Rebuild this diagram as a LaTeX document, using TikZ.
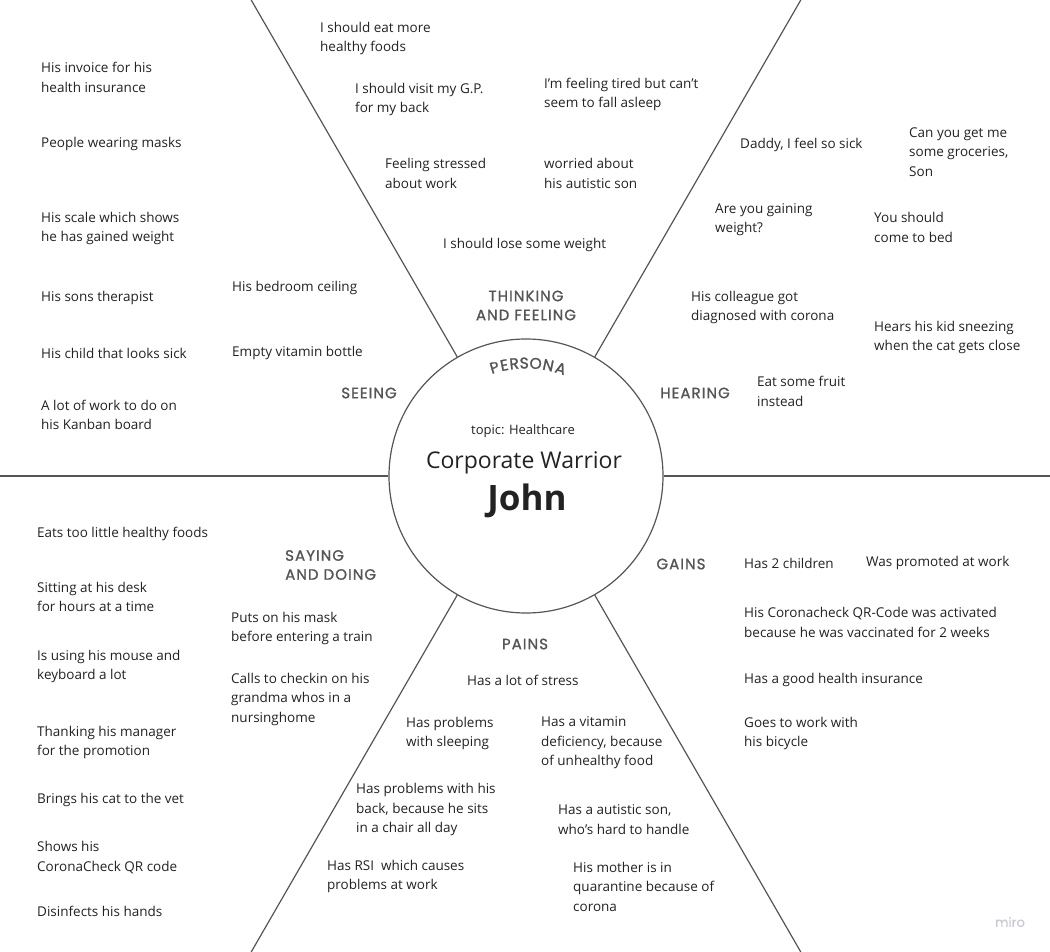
\documentclass[tikz,border=0pt]{standalone}
\usepackage{fontspec}
\setmainfont{Open Sans}
\newfontfamily\headfont{Poppins}[FakeBold=1.2,LetterSpace=7]
\newfontfamily\personafont{Poppins}[FakeBold=1.5]
\newfontfamily\mirofont{Poppins}[FakeBold=0.5]
\definecolor{ink}{HTML}{222222}
\definecolor{linec}{HTML}{555555}
\definecolor{headc}{HTML}{555555}
\definecolor{miroc}{HTML}{C9C9D6}
\begin{document}
\begin{tikzpicture}[x=1pt,y=-1pt,
  item/.style={anchor=west,align=left,inner sep=0pt,yshift=-1pt,font=\fontsize{13.5}{19.5}\selectfont,text=ink},
  head/.style={align=center,inner sep=0pt,font=\headfont\fontsize{15}{19}\selectfont,text=headc},
  divider/.style={draw=linec,line width=1.2pt}]
\useasboundingbox (0,0) rectangle (1050,952);
% centre circle
\node[circle,draw=linec,line width=1.2pt,minimum size=274pt,inner sep=0pt] (persona) at (526,476) {};
\coordinate (etl) at (251.2,0);
\coordinate (etr) at (800.8,0);
\coordinate (ebl) at (251.2,952);
\coordinate (ebr) at (800.8,952);
\coordinate (el) at (0,476);
\coordinate (er) at (1050,476);
\foreach \e in {etl,etr,ebl,ebr,el,er} \draw[divider] (persona) -- (\e);
% curved PERSONA
\foreach \ch/\ang [count=\i] in {P/106.2,E/101.1,R/96,S/90.9,O/85.1,N/78.6,A/72.1} {
  \node[inner sep=0pt,rotate=\ang-90,font=\personafont\fontsize{15.5}{15.5}\selectfont,text=headc] (pl\i) at ({526+113*cos(\ang)},{476-113*sin(\ang)}) {\ch};
}
\node[inner sep=0pt,font=\fontsize{13}{14}\selectfont,text=ink] (topic) at (523,431.5) {topic: Healthcare};
\node[inner sep=0pt,font=\fontsize{23}{28}\selectfont,text=ink] (role) at (524,462.5) {Corporate Warrior};
\node[inner sep=0pt,font=\bfseries\fontsize{35}{40}\selectfont,text=ink] (name) at (527,501) {John};
% headings
\node[head] (hsee) at (369,393) {SEEING};
\node[head] (hthink) at (526,305.5) {THINKING\\AND FEELING};
\node[head] (hhear) at (695,393) {HEARING};
\node[head,anchor=west,align=left] (hsay) at (285,565) {SAYING\\AND DOING};
\node[head] (hpain) at (525,644) {PAINS};
\node[head] (hgain) at (681,564) {GAINS};
% seeing
\node[item] (s1) at (41,76.5) {His invoice for his\\health insurance};
\node[item] (s2) at (41,143) {People wearing masks};
\node[item] (s3) at (41,227.5) {His scale which shows\\he has gained weight};
\node[item] (s4) at (41,297) {His sons therapist};
\node[item] (s5) at (41,352) {His child that looks sick};
\node[item] (s6) at (41,414) {A lot of work to do on\\his Kanban board};
\node[item] (s7) at (232,287) {His bedroom ceiling};
\node[item] (s8) at (232,352) {Empty vitamin bottle};
% thinking and feeling
\node[item] (t1) at (320,37.5) {I should eat more\\healthy foods};
\node[item] (t2) at (355,98.5) {I should visit my G.P.\\for my back};
\node[item] (t3) at (544,93.5) {I'm feeling tired but can't\\seem to fall asleep};
\node[item] (t4) at (385,172.5) {Feeling stressed\\about work};
\node[item] (t5) at (544,172.5) {worried about\\his autistic son};
\node[item] (t6) at (443,244) {I should lose some weight};
% hearing
\node[item] (r1) at (740,144) {Daddy, I feel so sick};
\node[item] (r2) at (909,151) {Can you get me\\some groceries,\\Son};
\node[item] (r3) at (715,218.5) {Are you gaining\\weight?};
\node[item] (r4) at (874,226.5) {You should\\come to bed};
\node[item] (r5) at (691,306.5) {His colleague got\\diagnosed with corona};
\node[item] (r6) at (874,336.5) {Hears his kid sneezing\\when the cat gets close};
\node[item] (r7) at (757,390.5) {Eat some fruit\\instead};
% saying and doing
\node[item] (d1) at (37,533) {Eats too little healthy foods};
\node[item] (d2) at (37,596) {Sitting at his desk\\for hours at a time};
\node[item] (d3) at (37,665.5) {Is using his mouse and\\keyboard a lot};
\node[item] (d4) at (37,741.5) {Thanking his manager\\for the promotion};
\node[item] (d5) at (37,799) {Brings his cat to the vet};
\node[item] (d6) at (37,856.5) {Shows his\\CoronaCheck QR code};
\node[item] (d7) at (37,910) {Disinfects his hands};
\node[item] (d8) at (231,627.5) {Puts on his mask\\before entering a train};
\node[item] (d9) at (231,698) {Calls to checkin on his\\grandma whos in a\\nursinghome};
% pains
\node[item] (p1) at (467,679) {Has a lot of stress};
\node[item] (p2) at (406,732.5) {Has problems\\with sleeping};
\node[item] (p3) at (541,742) {Has a vitamin\\deficiency, because\\of unhealthy food};
\node[item] (p4) at (356,808.5) {Has problems with his\\back, because he sits\\in a chair all day};
\node[item] (p5) at (558,818.5) {Has a autistic son,\\who's hard to handle};
\node[item] (p6) at (327,875.5) {Has RSI\ \ which causes\\problems at work};
\node[item] (p7) at (573,885.5) {His mother is in\\quarantine because of\\corona};
% gains
\node[item] (g1) at (744,562) {Has 2 children};
\node[item] (g2) at (866,562) {Was promoted at work};
\node[item] (g3) at (744,621.5) {His Coronacheck QR-Code was activated\\because he was vaccinated for 2 weeks};
\node[item] (g4) at (744,679) {Has a good health insurance};
\node[item] (g5) at (744,732.5) {Goes to work with\\his bicycle};
% logo
\node[inner sep=0pt,font=\mirofont\fontsize{13}{13}\selectfont,text=miroc] (miro) at (1010,922) {miro};
\end{tikzpicture}
\end{document}
